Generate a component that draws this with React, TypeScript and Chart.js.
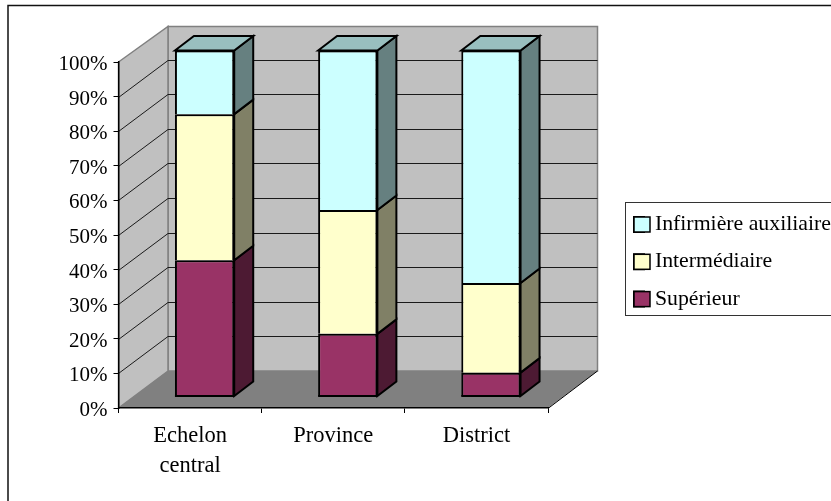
import React, { useEffect, useRef } from "react";
import { Chart, registerables } from "chart.js";

Chart.register(...registerables);

const categories = [["Echelon", "central"], "Province", "District"];
const superieur = [39.4, 18.1, 6.9];
const intermediaire = [42.2, 35.8, 25.9];
const auxiliaire = [18.4, 46.1, 67.2];

const FONT = "'Liberation Serif', 'Times New Roman', serif";
const WALL = "#c0c0c0";
const FLOOR = "#808080";
const WALL_EDGE = "#808080";

// depth of the 3D box, and of the bars inside it
const BOX_DX = 49.5;
const BOX_DY = 37;
const BOX_TOP_DROP = 1.5;
const BAR_SHIFT_X = 14.5;
const BAR_SHIFT_Y = 11.5;
const BAR_DX = 19;
const BAR_DY = 14.5;

// legend placement
const LEG_PAD = 15.5;
const LEG_FONT = 21.8;
const LEG_LEFT = 634 - LEG_PAD;
const LEG_TOP = 198;

function shade(hex: string, k: number) {
  const n = parseInt(hex.slice(1), 16);
  const r = Math.round(((n >> 16) & 255) * k);
  const g = Math.round(((n >> 8) & 255) * k);
  const b = Math.round((n & 255) * k);
  return `rgb(${r},${g},${b})`;
}

function poly(ctx: CanvasRenderingContext2D, pts: number[][], fill: string | null, stroke: string | null, lw = 1) {
  ctx.beginPath();
  pts.forEach((p, i) => (i ? ctx.lineTo(p[0], p[1]) : ctx.moveTo(p[0], p[1])));
  ctx.closePath();
  if (fill) {
    ctx.fillStyle = fill;
    ctx.fill();
  }
  if (stroke) {
    ctx.strokeStyle = stroke;
    ctx.lineWidth = lw;
    ctx.lineJoin = "miter";
    ctx.stroke();
  }
}

const box3d = {
  id: "box3d",
  beforeDraw(chart: any) {
    const { ctx, chartArea: a, scales } = chart;
    const { left: l, right: r, top: t, bottom: b } = a;
    const dx = BOX_DX;
    const dy = BOX_DY;
    const topBack = t - dy + BOX_TOP_DROP;
    ctx.save();
    ctx.fillStyle = "#fff";
    ctx.fillRect(0, 0, chart.width, chart.height);
    // page frame: only its top and left edges fall inside the picture
    ctx.strokeStyle = "#111";
    ctx.lineWidth = 1.5;
    ctx.beginPath();
    ctx.moveTo(chart.width, 5.5);
    ctx.lineTo(8, 5.5);
    ctx.lineTo(8, chart.height);
    ctx.stroke();
    poly(ctx, [[l + dx, topBack], [r + dx, topBack], [r + dx, b - dy], [l + dx, b - dy]], WALL, WALL_EDGE, 1.5);
    poly(ctx, [[l, t], [l + dx, topBack], [l + dx, b - dy], [l, b]], WALL, WALL_EDGE, 1.5);
    poly(ctx, [[l, b], [r, b], [r + dx, b - dy], [l + dx, b - dy]], FLOOR, null);
    const y = scales.y;
    ctx.strokeStyle = "#1a1a1a";
    ctx.lineWidth = 1;
    ctx.beginPath();
    y.ticks.forEach((tk: any, i: number) => {
      const p = Math.round(y.getPixelForTick(i)) + 0.5;
      if (tk.value === 0 || tk.value === 100) return;
      ctx.moveTo(l, p);
      ctx.lineTo(l + dx, p - dy);
      ctx.lineTo(r + dx, p - dy);
    });
    ctx.stroke();
    ctx.strokeStyle = "#000";
    ctx.beginPath();
    ctx.moveTo(r, b + 0.5);
    ctx.lineTo(r + dx, b - dy);
    ctx.stroke();
    // legend frame
    ctx.strokeStyle = "#333";
    ctx.lineWidth = 1;
    ctx.strokeRect(625.5, 202.5, 210, 113);
    ctx.restore();
    const lg = chart.legend;
    lg.left = LEG_LEFT;
    lg.right = chart.width;
    lg.top = LEG_TOP;
    lg.bottom = chart.height;
    lg.width = lg.right - lg.left;
    lg.height = lg.bottom - lg.top;
    // value labels sit a little below their tick marks
    if (!y.__shifted) {
      const draw = y.drawLabels;
      y.drawLabels = function (area: any) {
        ctx.save();
        ctx.translate(0, 2.5);
        draw.call(this, area);
        ctx.restore();
      };
      y.__shifted = true;
    }
  },
  beforeDatasetsDraw(chart: any) {
    const ctx = chart.ctx;
    // widen the legend swatches drawn by the library
    const lg = chart.legend;
    ctx.save();
    lg.legendItems.forEach((item: any, i: number) => {
      const y = LEG_TOP + LEG_PAD + i * (LEG_FONT + LEG_PAD) + 3.5;
      ctx.fillStyle = item.fillStyle;
      ctx.strokeStyle = "#000";
      ctx.lineWidth = 1.5;
      ctx.fillRect(634, y, 16, 15);
      ctx.strokeRect(634, y, 16, 15);
    });
    ctx.restore();
    ctx.save();
    ctx.translate(BAR_SHIFT_X, -BAR_SHIFT_Y);
  },
  afterDatasetsDraw(chart: any) {
    const ctx = chart.ctx;
    const n = chart.data.datasets.length;
    chart.data.datasets.forEach((ds: any, i: number) => {
      const meta = chart.getDatasetMeta(i);
      meta.data.forEach((el: any) => {
        const p = el.getProps(["x", "y", "base", "width"], true);
        const x1 = p.x + p.width / 2;
        const x0 = p.x - p.width / 2;
        poly(ctx, [[x1, p.y], [x1 + BAR_DX, p.y - BAR_DY], [x1 + BAR_DX, p.base - BAR_DY], [x1, p.base]], shade(ds.backgroundColor, 0.5), "#000", 2);
        if (i === 0) {
          // bottom edge of the column, which the library skips
          ctx.strokeStyle = "#000";
          ctx.lineWidth = 2;
          ctx.beginPath();
          ctx.moveTo(x0, p.base);
          ctx.lineTo(x1, p.base);
          ctx.stroke();
        }
        if (i === n - 1) {
          poly(ctx, [[x0, p.y], [x0 + BAR_DX, p.y - BAR_DY], [x1 + BAR_DX, p.y - BAR_DY], [x1, p.y]], shade(ds.backgroundColor, 0.75), "#000", 2);
        }
      });
    });
    ctx.restore();
  },
};

export default function App() {
  const ref = useRef<HTMLCanvasElement | null>(null);
  useEffect(() => {
    document.body.style.margin = "0";
    const chart = new Chart(ref.current as HTMLCanvasElement, {
      type: "bar",
      data: {
        labels: categories as any,
        datasets: [
          { label: "Supérieur", data: superieur, backgroundColor: "#993366" },
          { label: "Intermédiaire", data: intermediaire, backgroundColor: "#ffffcc" },
          { label: "Infirmière auxiliaire", data: auxiliaire, backgroundColor: "#ccffff" },
        ].map((d) => ({ ...d, borderColor: "#000", borderWidth: 2, barPercentage: 0.414, categoryPercentage: 1 })),
      },
      options: {
        responsive: false,
        animation: false,
        devicePixelRatio: 1,
        layout: { padding: { left: 0, top: 62, right: 283, bottom: 0 } },
        plugins: {
          tooltip: { enabled: false },
          legend: {
            position: "chartArea",
            align: "start",
            reverse: true,
            labels: {
              boxWidth: 10,
              boxHeight: 15,
              padding: LEG_PAD,
              color: "#000",
              font: { family: FONT, size: LEG_FONT },
            },
          },
        },
        scales: {
          x: {
            stacked: true,
            afterFit: (s: any) => { s.height = 93; },
            border: { color: "#000", width: 1.5 },
            grid: { offset: true, drawOnChartArea: false, drawTicks: true, tickLength: 5, color: "#000" },
            ticks: { color: "#000", padding: 8, maxRotation: 0, autoSkip: false, font: { family: FONT, size: 22.5, lineHeight: 1.33 } },
          },
          y: {
            stacked: true,
            min: 0,
            max: 100,
            afterFit: (s: any) => { s.width = 118.5; },
            border: { color: "#000", width: 1.5 },
            grid: { drawOnChartArea: false, drawTicks: true, tickLength: 5, color: "#000" },
            ticks: {
              stepSize: 10,
              color: "#000",
              padding: 6,
              callback: (v: any) => v + "%",
              font: { family: FONT, size: 21 },
            },
          },
        },
      },
      plugins: [box3d],
    } as any);
    return () => chart.destroy();
  }, []);
  return (
    <div style={{ position: "absolute", left: 0, top: 0, width: 831, height: 501 }}>
      <canvas ref={ref} width={831} height={501} style={{ display: "block" }} />
    </div>
  );
}
